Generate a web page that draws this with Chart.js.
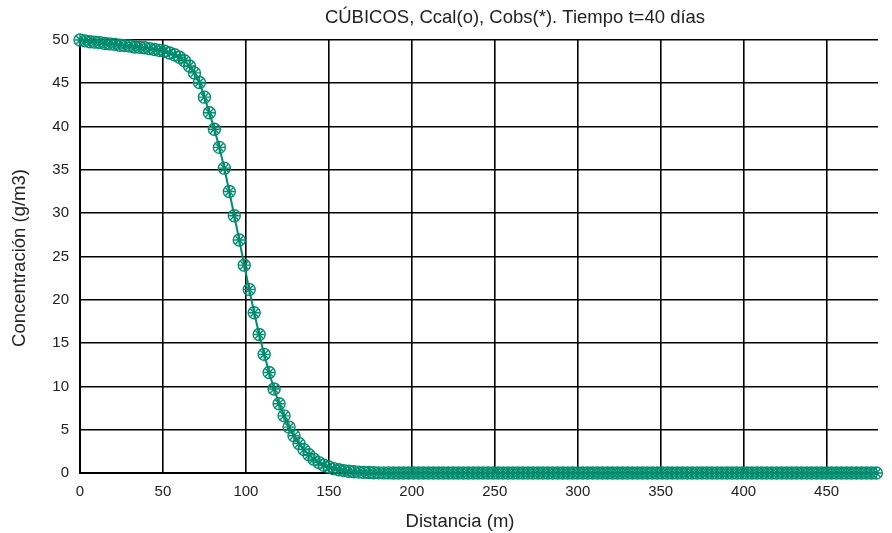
<!DOCTYPE html>
<html>
<head>
<meta charset="utf-8">
<script src="https://cdn.jsdelivr.net/npm/chart.js@4/dist/chart.umd.min.js"></script>
<style>
  html, body { margin: 0; padding: 0; background: #fff; }
  #wrap { width: 892px; height: 533px; }
</style>
</head>
<body>
<div id="wrap"><canvas id="myChart" width="892" height="533"></canvas></div>
<script>
  // distancia (m), cada 3 m
  const distancias = [];
  for (let i = 0; i <= 160; i++) distancias.push(i * 3);

  // concentracion calculada (o)
  const cCal = [
    50.0, 49.9, 49.8, 49.75, 49.7, 49.6, 49.55, 49.5, 49.4, 49.35,
    49.3, 49.2, 49.15, 49.1, 49.0, 48.9, 48.8, 48.7, 48.5, 48.3,
    48.0, 47.6, 47.0, 46.2, 45.1, 43.4, 41.6, 39.7, 37.6, 35.2,
    32.5, 29.7, 26.9, 24.0, 21.2, 18.5, 16.0, 13.7, 11.6, 9.7,
    8.0, 6.6, 5.3, 4.3, 3.4, 2.7, 2.1, 1.6, 1.2, 0.9,
    0.7, 0.5, 0.38, 0.28, 0.2, 0.14, 0.1, 0.07, 0.05, 0.03,
    0.02, 0.01, 0.01, 0, 0, 0, 0, 0, 0, 0,
    0, 0, 0, 0, 0, 0, 0, 0, 0, 0,
    0, 0, 0, 0, 0, 0, 0, 0, 0, 0,
    0, 0, 0, 0, 0, 0, 0, 0, 0, 0,
    0, 0, 0, 0, 0, 0, 0, 0, 0, 0,
    0, 0, 0, 0, 0, 0, 0, 0, 0, 0,
    0, 0, 0, 0, 0, 0, 0, 0, 0, 0,
    0, 0, 0, 0, 0, 0, 0, 0, 0, 0,
    0, 0, 0, 0, 0, 0, 0, 0, 0, 0,
    0, 0, 0, 0, 0, 0, 0, 0, 0, 0,
    0
  ];
  // concentracion observada (*), coincide con la calculada
  const cObs = cCal.slice();

  const titulo = 'CÚBICOS, Ccal(o), Cobs(*). Tiempo t=40 días';
  const tituloX = 'Distancia (m)';
  const tituloY = 'Concentración (g/m3)';

  const verde = 'rgb(0, 140, 110)';
  const fuente = "'Liberation Sans', Arial, sans-serif";

  // titulos dibujados a mano (como en la figura original, no centrados)
  const etiquetas = {
    id: 'etiquetas',
    afterDraw(chart) {
      const c = chart.ctx;
      c.save();
      c.fillStyle = '#222';
      c.font = '18.5px ' + fuente;
      c.textAlign = 'center';
      c.textBaseline = 'middle';
      c.fillText(titulo, 515, 18);
      c.fillText(tituloX, 460, 522);
      c.translate(20, 258);
      c.rotate(-Math.PI / 2);
      c.fillText(tituloY, 0, 0);
      c.restore();
    }
  };

  let ctx = document.getElementById('myChart').getContext('2d');

  let grafico = new Chart(ctx, {
    type: 'line',
    data: {
      datasets: [{
        label: 'Cobs(*)',
        data: distancias.map((x, i) => ({ x: x, y: cObs[i] })),
        showLine: false,
        pointStyle: 'star',
        pointRadius: 5.5,
        borderColor: verde,
        borderWidth: 1.4,
        clip: false
      }, {
        label: 'Ccal(o)',
        data: distancias.map((x, i) => ({ x: x, y: cCal[i] })),
        pointStyle: 'circle',
        pointRadius: 6,
        pointBorderWidth: 1.4,
        pointBackgroundColor: 'rgba(0,0,0,0)',
        pointBorderColor: verde,
        borderColor: verde,
        borderWidth: 2,
        tension: 0,
        clip: false
      }]
    },
    options: {
      responsive: false,
      animation: false,
      layout: { padding: { right: 14, left: 0, top: 40, bottom: 0 } },
      plugins: {
        legend: { display: false },
        tooltip: { enabled: false },
        title: { display: false }
      },
      scales: {
        x: {
          type: 'linear',
          min: 0,
          max: 481,
          afterFit: (s) => { s.height = 60; },
          ticks: {
            stepSize: 50,
            includeBounds: false,
            padding: 10,
            color: '#222',
            font: { family: fuente, size: 15 }
          },
          grid: { color: '#000', lineWidth: 1.6, drawTicks: false },
          border: { color: '#000', width: 2 }
        },
        y: {
          min: 0,
          max: 50,
          afterFit: (s) => { s.width = 80; },
          ticks: {
            stepSize: 5,
            padding: 11,
            color: '#222',
            font: { family: fuente, size: 15 }
          },
          grid: { color: '#000', lineWidth: 1.6, drawTicks: false },
          border: { color: '#000', width: 2 }
        }
      }
    },
    plugins: [etiquetas]
  });
</script>
</body>
</html>
